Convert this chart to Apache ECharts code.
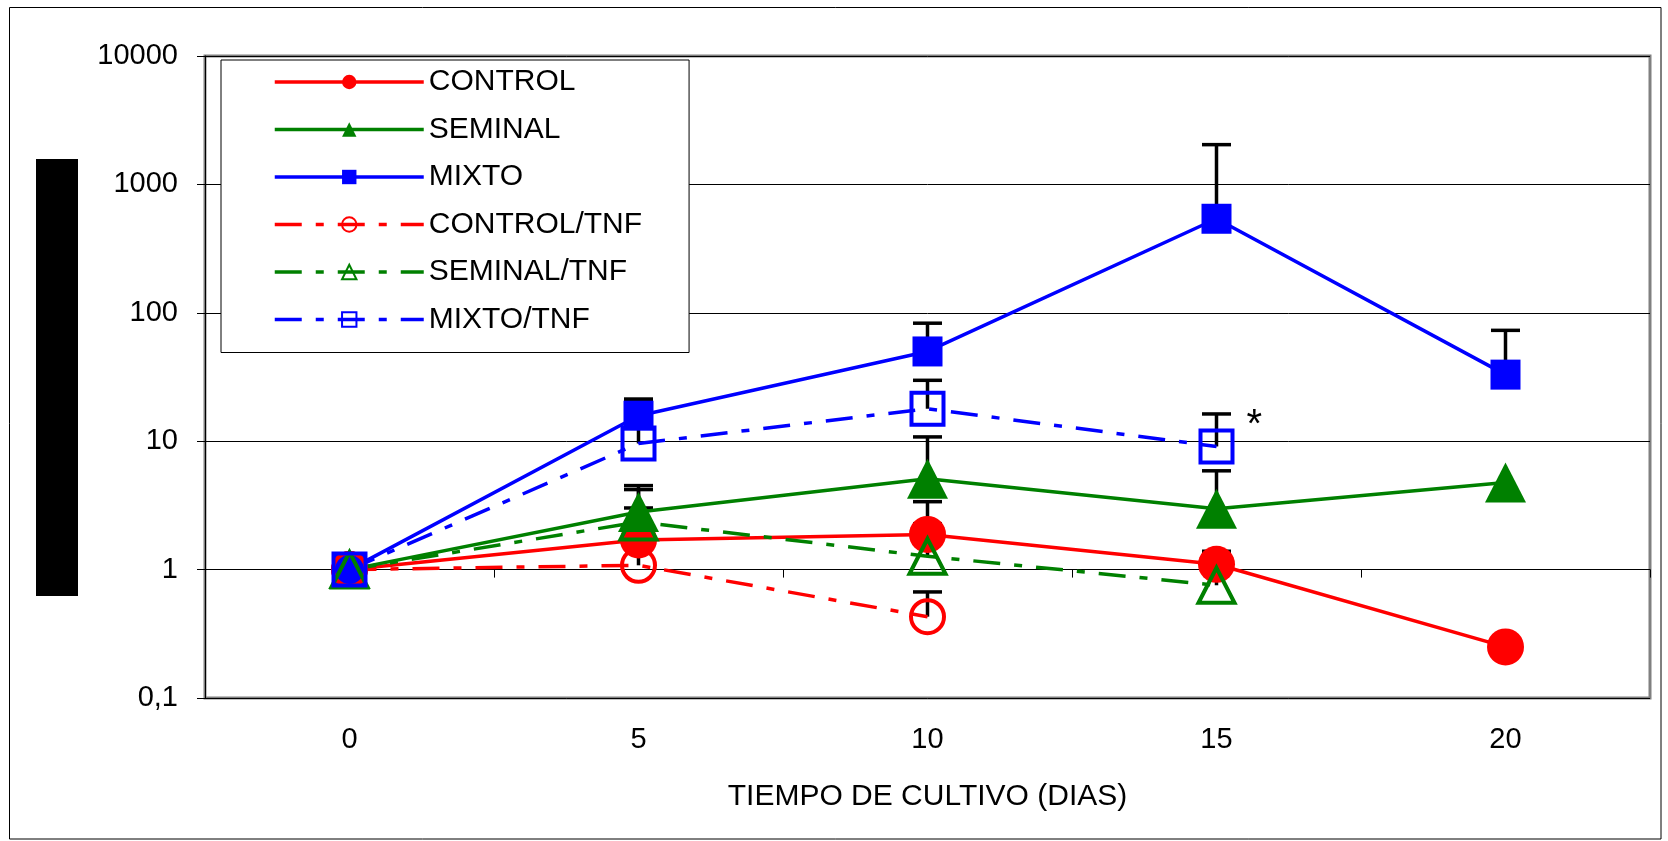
<!DOCTYPE html>
<html>
<head>
<meta charset="utf-8">
<title>Tiempo de cultivo</title>
<script src="https://cdn.jsdelivr.net/npm/echarts@6/dist/echarts.min.js"></script>
<style>
  html, body { margin: 0; padding: 0; background: #fff; }
  #chart { width: 1668px; height: 841px; }
</style>
</head>
<body>
<div id="chart"></div>
<script>
// ---- data ----
const days = ['0', '5', '10', '15', '20'];
const seriesNames = ['CONTROL', 'SEMINAL', 'MIXTO', 'CONTROL/TNF', 'SEMINAL/TNF', 'MIXTO/TNF'];

// mean fold change relative to day 0
const control    = [1, 1.7, 1.88, 1.1, 0.25];
const seminal    = [1, 2.81, 5.1, 2.98, 4.76];
const mixto      = [1, 15.8, 50, 540, 33];
const controlTnf = [1, 1.08, 0.43, null, null];
const seminalTnf = [1, 2.35, 1.27, 0.755, null];
const mixtoTnf   = [1, 9.6, 17.9, 9.1, null];

// positive error (upper bar) for each mean
const controlErr    = [null, 1.32, 1.5, 0.29, null];
const seminalErr    = [null, 1.7, 5.7, 2.9, null];
const mixtoErr      = [null, 5.5, 33, 1500, 40];
const controlTnfErr = [null, 0.55, 0.24, null, null];
const seminalTnfErr = [null, 1.85, 1.0, 0.55, null];
const mixtoTnfErr   = [null, 10.9, 11.9, 7.2, null];

const yTicks      = [0.1, 1, 10, 100, 1000, 10000];
const yTickLabels = ['0,1', '1', '10', '100', '1000', '10000'];
const xAxisTitle  = 'TIEMPO DE CULTIVO (DIAS)';

// significance mark
const starMark = { series: 'MIXTO/TNF', index: 3, text: '*' };

// ---- styling ----
const FONT = "'Liberation Sans', Arial, sans-serif";
const RED = '#ff0000', GREEN = '#008000', BLUE = '#0000ff';
const DASH_DOT = [27, 14, 8, 14];
const LINE_W = 3.5;

const means  = [control, seminal, mixto, controlTnf, seminalTnf, mixtoTnf];
const errors = [controlErr, seminalErr, mixtoErr, controlTnfErr, seminalTnfErr, mixtoTnfErr];
const looks = [
  { color: RED,   symbol: 'circle',   size: 37,       filled: true,  dash: 'solid' },
  { color: GREEN, symbol: 'triangle', size: [41, 40], filled: true,  dash: 'solid' },
  { color: BLUE,  symbol: 'rect',     size: 30,       filled: true,  dash: 'solid' },
  { color: RED,   symbol: 'circle',   size: 33,       filled: false, dash: DASH_DOT },
  { color: GREEN, symbol: 'triangle', size: [36, 35], filled: false, dash: DASH_DOT },
  { color: BLUE,  symbol: 'rect',     size: 32,       filled: false, dash: DASH_DOT }
];

// grid geometry
const W = 1668, H = 841;
const gridLeft = 205, gridRight = 18, gridTop = 56, gridBottom = 143;
const yMin = yTicks[0], yMax = yTicks[yTicks.length - 1];
// the category axis crosses the value axis at 1
const crossValue = 1;
const plotHeight = H - gridTop - gridBottom;
const crossLift = plotHeight * (Math.log10(crossValue) - Math.log10(yMin)) /
                  (Math.log10(yMax) - Math.log10(yMin));

function tickLabel(v) {
  for (let i = 0; i < yTicks.length; i++) {
    if (Math.abs(Math.log10(v) - Math.log10(yTicks[i])) < 1e-6) return yTickLabels[i];
  }
  return String(v).replace('.', ',');
}

// error bar records: [categoryIndex, mean, mean + error]
const errData = [];
means.forEach((arr, s) => {
  arr.forEach((m, i) => {
    const e = errors[s][i];
    if (m != null && e != null) errData.push([i, m, m + e]);
  });
});

const lineSeries = seriesNames.map((name, s) => {
  const lk = looks[s];
  return {
    name: name,
    type: 'line',
    z: 3,
    data: means[s].map((v, i) => {
      if (name === starMark.series && i === starMark.index) {
        return {
          value: v,
          label: {
            show: true, formatter: starMark.text, position: 'right', distance: 5,
            offset: [7, -20], fontSize: 40, color: '#000', fontFamily: FONT
          }
        };
      }
      return v;
    }),
    symbol: lk.symbol,
    symbolSize: lk.size,
    showSymbol: true,
    showAllSymbol: true,
    connectNulls: false,
    lineStyle: { color: lk.color, width: LINE_W, type: lk.dash },
    itemStyle: lk.filled
      ? { color: lk.color }
      : { color: 'rgba(255,255,255,0)', borderColor: lk.color, borderWidth: 4 },
    emphasis: { disabled: true },
    animation: false
  };
});

const errorBarSeries = {
  type: 'custom',
  name: 'error',
  z: 1,
  silent: true,
  data: errData,
  encode: { x: 0, y: [1, 2] },
  renderItem: function (params, api) {
    const i = api.value(0);
    const p0 = api.coord([i, api.value(1)]);
    const p1 = api.coord([i, api.value(2)]);
    const half = 14.5;
    const st = { stroke: '#000', lineWidth: 3.5 };
    return {
      type: 'group',
      children: [
        { type: 'line', shape: { x1: p0[0], y1: p0[1], x2: p1[0], y2: p1[1] }, style: st },
        { type: 'line', shape: { x1: p1[0] - half, y1: p1[1], x2: p1[0] + half, y2: p1[1] }, style: st }
      ]
    };
  },
  animation: false
};

const chart = echarts.init(document.getElementById('chart'), null, { renderer: 'canvas' });

chart.setOption({
  backgroundColor: '#fff',
  animation: false,
  textStyle: { fontFamily: FONT },
  grid: {
    left: gridLeft, right: gridRight, top: gridTop, bottom: gridBottom,
    show: true, borderColor: '#808080', borderWidth: 3, backgroundColor: '#fff'
  },
  legend: {
    data: seriesNames,
    orient: 'vertical',
    left: 221, top: 60,
    padding: [7, 47, 18, 52],
    itemWidth: 149, itemHeight: 18, itemGap: 17.5,
    backgroundColor: '#fff', borderColor: '#000', borderWidth: 1,
    selectedMode: false,
    lineStyle: { width: LINE_W },
    textStyle: { fontFamily: FONT, fontSize: 30, color: '#000', lineHeight: 30 }
  },
  xAxis: [
    {
      type: 'category', data: days, position: 'bottom', boundaryGap: true,
      axisLine: { show: false }, axisTick: { show: false },
      axisLabel: { fontSize: 29, color: '#000', margin: 27, fontFamily: FONT },
      splitLine: { show: false },
      name: xAxisTitle, nameLocation: 'middle', nameGap: 84,
      nameTextStyle: { fontSize: 30, color: '#000', fontFamily: FONT }
    },
    {
      type: 'category', data: days, position: 'bottom', boundaryGap: true,
      offset: -crossLift,
      axisLine: { show: true, lineStyle: { color: '#000', width: 1 } },
      axisTick: { show: true, inside: false, length: 8, lineStyle: { color: '#000', width: 1 } },
      axisLabel: { show: false },
      splitLine: { show: false }
    }
  ],
  yAxis: {
    type: 'log', logBase: 10, min: yMin, max: yMax, splitNumber: 5,
    axisLine: { show: true, lineStyle: { color: '#000', width: 1 } },
    axisTick: { show: true, inside: false, length: 8, lineStyle: { color: '#000', width: 1 } },
    axisLabel: { fontSize: 29, color: '#000', margin: 27, formatter: tickLabel, fontFamily: FONT },
    splitLine: { show: true, lineStyle: { color: '#000', width: 1 } }
  },
  series: [errorBarSeries].concat(lineSeries),
  graphic: [
    {
      type: 'rect', silent: true, z: 100,
      shape: { x: 9.5, y: 7.5, width: 1651.5, height: 831.5 },
      style: { fill: 'none', stroke: '#000', lineWidth: 1 }
    },
    {
      type: 'rect', silent: true, z: 100,
      shape: { x: 36, y: 159, width: 42, height: 437 },
      style: { fill: '#000' }
    }
  ]
});
</script>
</body>
</html>
